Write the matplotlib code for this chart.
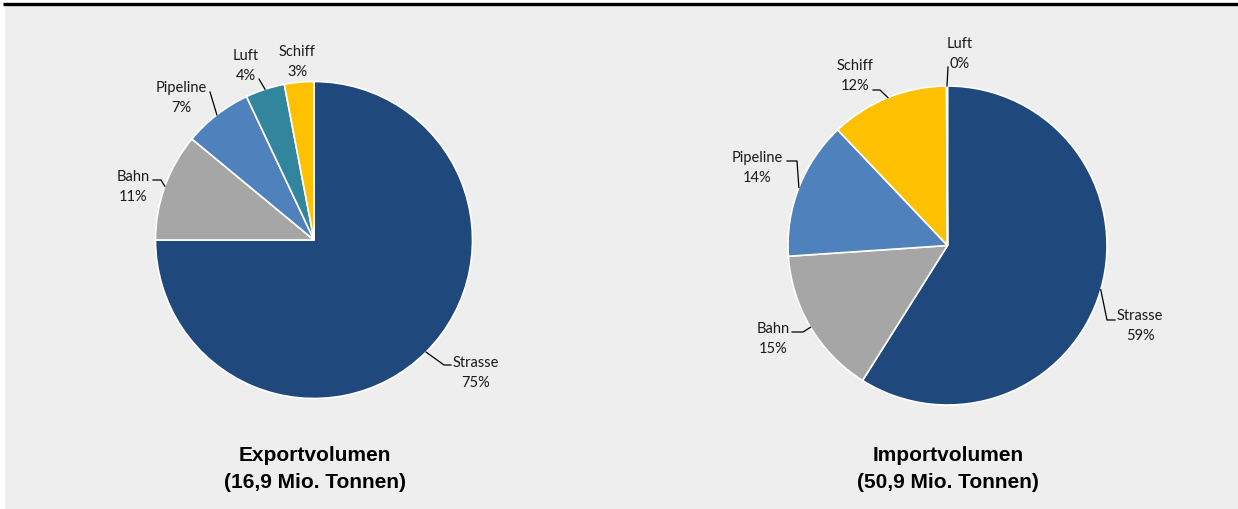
import numpy as np
import matplotlib
matplotlib.use("Agg")
import matplotlib.pyplot as plt
from matplotlib.patches import Rectangle

# ---- data -------------------------------------------------------------
export_modes = ["Strasse", "Bahn", "Pipeline", "Luft", "Schiff"]
export_share = [75, 11, 7, 4, 3]
export_title = ["Exportvolumen", "(16,9 Mio. Tonnen)"]

import_modes = ["Strasse", "Bahn", "Pipeline", "Schiff", "Luft"]
import_share = [59, 15, 14, 12, 0.1]
import_title = ["Importvolumen", "(50,9 Mio. Tonnen)"]

mode_colors = {
    "Strasse": "#1F497D",
    "Bahn": "#A6A6A6",
    "Pipeline": "#4F81BD",
    "Luft": "#31859C",
    "Schiff": "#FFC000",
}

# ---- canvas in pixel units (y measured from the top) -------------------
W, H = 1238, 510
fig = plt.figure(figsize=(W / 100, H / 100), dpi=100)
fig.patch.set_facecolor("white")
ax = fig.add_axes([0, 0, 1, 1])


def Y(y):
    return H - y


ax.add_patch(Rectangle((5, Y(H)), W - 5, H - 7, facecolor="#EEEEEE",
                       edgecolor="none", zorder=0))
ax.plot([3, W], [Y(5), Y(5)], color="black", lw=2.4, solid_capstyle="butt",
        zorder=1)

LABEL_FONT = "Lato"
TITLE_FONT = "Liberation Sans"

# text position (centre x, centre y of first line) and leader elbows per slice
export_layout = {
    "Strasse": ((476, 362), [(444, 366), (451, 366)]),
    "Bahn": ((133, 176), [(161, 181), (153, 181)]),
    "Pipeline": ((181, 87), [(210, 93)]),
    "Luft": ((246, 55), [(259, 80)]),
    "Schiff": ((297, 51), None),
}
import_layout = {
    "Strasse": ((1140, 315), [(1107, 321), (1115, 321)]),
    "Bahn": ((773, 328), [(803, 333), (792, 333)]),
    "Pipeline": ((757, 157), [(797, 162), (787, 162)]),
    "Schiff": ((855, 65), [(880, 91), (873, 91)]),
    "Luft": ((960, 43), [(948, 68)]),
}


def draw_pie(modes, shares, center, radius, layout, title, title_x):
    cx, cy = center
    total = sum(shares)
    wedges, _ = ax.pie(
        shares,
        colors=[mode_colors[m] for m in modes],
        startangle=90,
        counterclock=False,
        center=(cx, Y(cy)),
        radius=radius,
        frame=True,
        wedgeprops=dict(edgecolor="white", linewidth=1.2),
    )
    for w in wedges:
        w.set_zorder(2)
    for mode, share, w in zip(modes, shares, wedges):
        (tx, ty), elbows = layout[mode]
        pct = f"{round(share / total * 100):.0f}%"
        ax.text(tx, Y(ty + 5), mode, ha="center", va="baseline",
                fontsize=10.5, family=LABEL_FONT, color="#1a1a1a", zorder=4)
        ax.text(tx, Y(ty + 25), pct, ha="center", va="baseline",
                fontsize=10.5, family=LABEL_FONT, color="#1a1a1a", zorder=4)
        if elbows:
            mid = np.deg2rad((w.theta1 + w.theta2) / 2)
            ex = cx + radius * np.cos(mid)
            ey = Y(cy) + radius * np.sin(mid)
            xs = [ex] + [p[0] for p in elbows]
            ys = [ey] + [Y(p[1]) for p in elbows]
            ax.plot(xs, ys, color="black", lw=0.9, zorder=3)
    ax.text(title_x, Y(461), title[0], ha="center", va="baseline",
            fontsize=15, fontweight="bold", family=TITLE_FONT, color="black")
    ax.text(title_x, Y(488), title[1], ha="center", va="baseline",
            fontsize=15, fontweight="bold", family=TITLE_FONT, color="black")


draw_pie(export_modes, export_share, (314, 241), 158.5, export_layout,
         export_title, 315)
draw_pie(import_modes, import_share, (947.5, 246.5), 159.5, import_layout,
         import_title, 948)

ax.set_xlim(0, W)
ax.set_ylim(0, H)
ax.set_aspect("auto")
ax.axis("off")

fig.savefig("out.png", dpi=100, facecolor=fig.get_facecolor())
